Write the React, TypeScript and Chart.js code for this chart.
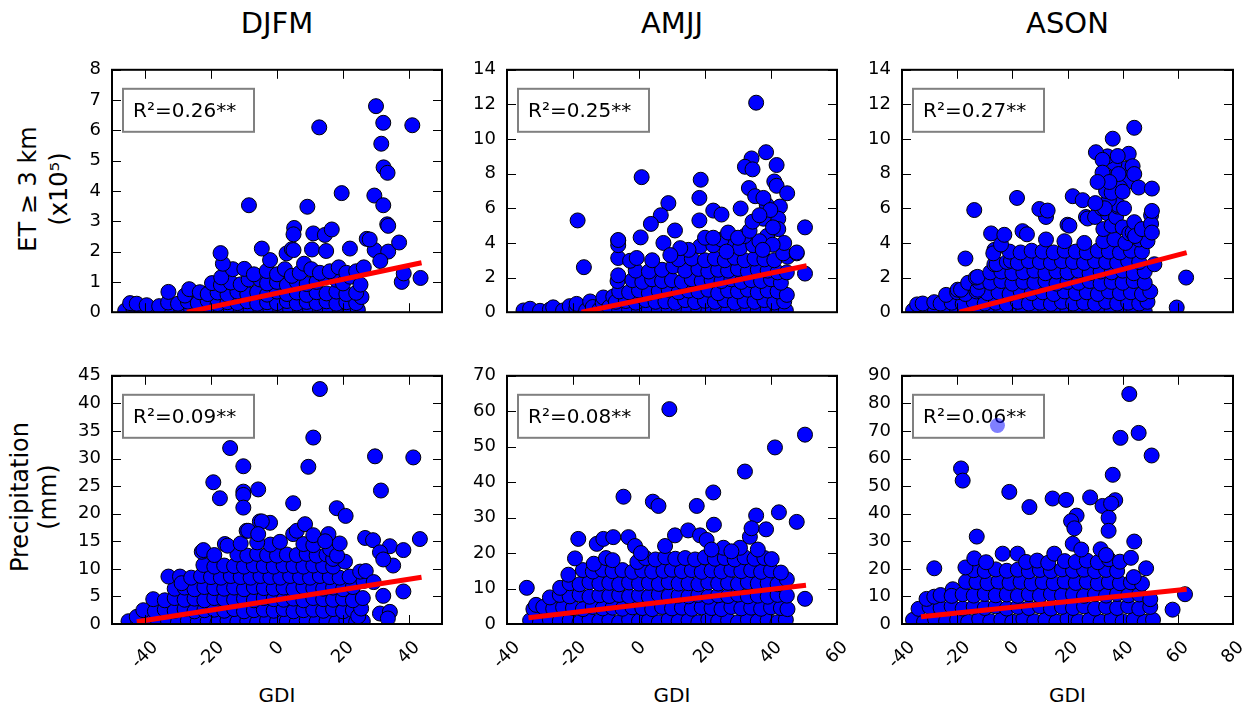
import { useEffect, useRef } from "react";
import { Chart, registerables } from "chart.js";

Chart.register(...registerables);

const FONT = "'DejaVu Sans', 'Liberation Sans', sans-serif";

type Pt = [number, number];

// ---------- season titles, axis labels, fit statistics ----------
const seasons = ["DJFM", "AMJJ", "ASON"];
const rowLabels = [["ET \u2265 3 km", "(x10\u2075)"], ["Precipitation", "(mm)"]];
const xLabel = "GDI";
const r2Et = ["R\u00b2=0.26**", "R\u00b2=0.25**", "R\u00b2=0.27**"];
const r2Pr = ["R\u00b2=0.09**", "R\u00b2=0.08**", "R\u00b2=0.06**"];

// ---------- axis ranges and ticks ----------
const xRanges: Pt[] = [[-50, 50], [-40, 60], [-40, 80]];
const xTicks = [
  [-40, -20, 0, 20, 40],
  [-40, -20, 0, 20, 40, 60],
  [-40, -20, 0, 20, 40, 60, 80],
];
const etYMax = [8, 14, 14];
const prYMax = [45, 70, 90];
const etYTicks = [
  [0, 1, 2, 3, 4, 5, 6, 7, 8],
  [0, 2, 4, 6, 8, 10, 12, 14],
  [0, 2, 4, 6, 8, 10, 12, 14],
];
const prYTicks = [
  [0, 5, 10, 15, 20, 25, 30, 35, 40, 45],
  [0, 10, 20, 30, 40, 50, 60, 70],
  [0, 10, 20, 30, 40, 50, 60, 70, 80, 90],
];

// ---------- regression lines (GDI, value) ----------
const fitDjfmEt: Pt[] = [[-27.3, 0], [43.8, 1.63]];
const fitAmjjEt: Pt[] = [[-17.4, 0], [50.8, 2.68]];
const fitAsonEt: Pt[] = [[-19.2, 0], [63.2, 3.44]];
const fitDjfmPr: Pt[] = [[-42.5, 0.4], [43.8, 8.47]];
const fitAmjjPr: Pt[] = [[-33.5, 1.74], [50.6, 10.9]];
const fitAsonPr: Pt[] = [[-33.1, 2.6], [63.2, 12.6]];

// ---------- ET >= 3 km (x10^5) vs GDI ----------
const djfmEt: Pt[] = [
  [-46, 0.05], [-43.5, 0.1], [-41, 0.04], [-38, 0.08], [-35, 0.03], [-32, 0.1], [-29, 0.05], [-26, 0.08], [-23, 0.02], [-20, 0.1],
  [-17, 0.05], [-14, 0.09], [-11, 0.03], [-8, 0.07], [-5, 0.04], [-2, 0.1], [1, 0.05], [4, 0.08], [7, 0.03], [10, 0.1],
  [13, 0.06], [16, 0.04], [19, 0.09], [22, 0.05], [24.5, 0.08],
  [-44.5, 0.3], [-42.5, 0.28], [-39.5, 0.23], [-35.7, 0.2], [-33, 0.32], [-30, 0.28], [-27, 0.35], [-24, 0.3], [-21, 0.38], [-18, 0.27],
  [-15, 0.33], [-12, 0.3], [-9, 0.36], [-6, 0.28], [-3, 0.33], [0, 0.3], [3, 0.37], [6, 0.29], [9, 0.34], [12, 0.3],
  [15, 0.36], [18, 0.28], [21, 0.33], [24, 0.3], [25.6, 0.5],
  [-32.9, 0.67], [-27.9, 0.55], [-26.6, 0.76], [-23.4, 0.66], [-21, 0.6], [-18, 0.65], [-15, 0.58], [-12, 0.68], [-9, 0.6], [-6, 0.66],
  [-3, 0.58], [0, 0.68], [3, 0.6], [6, 0.65], [9, 0.57], [12, 0.66], [15, 0.62], [18, 0.68], [21, 0.6], [24, 0.64],
  [-19.7, 0.96], [-17, 0.9], [-14, 0.98], [-11, 0.92], [-8.6, 1.08], [-5.1, 1.08], [-3, 0.95], [0, 1.0], [3, 0.9], [6, 1.0],
  [9, 0.93], [12, 1.0], [14.5, 1.17], [18, 1.07], [20, 0.95], [22.2, 1.17], [25.3, 0.91],
  [-16.9, 1.15], [-13.4, 1.42], [-9.9, 1.43], [-7, 1.25], [-3.1, 1.36], [0, 1.25], [2.4, 1.42], [4.5, 1.2], [6.9, 1.3], [8.2, 1.6],
  [10.4, 1.42], [13, 1.3], [16, 1.35], [18.7, 1.48], [21, 1.3], [24, 1.35], [26.3, 1.48],
  [-16.4, 1.6], [-17.1, 1.95], [-2.1, 1.72], [2.9, 1.94], [-4.6, 2.1], [4.5, 2.08], [5.0, 2.05], [10.6, 2.07], [14.9, 2.02], [22.1, 2.1],
  [29.6, 2.05], [27.2, 2.42], [28.1, 2.4], [33.7, 2.0], [37, 2.3], [31.3, 1.69], [11, 2.6], [14.5, 2.55], [16.6, 2.73], [5.2, 2.78],
  [5.0, 2.57], [33.4, 2.9],
  [30, 6.8], [12.8, 6.1], [32.2, 6.25], [41, 6.17], [31.6, 5.56], [32.3, 4.78], [33.5, 4.6], [19.6, 3.93], [29.5, 3.85], [32.2, 3.53],
  [-8.5, 3.53], [9.2, 3.48], [33.7, 2.85], [37.8, 1.0], [38.4, 1.28], [43.5, 1.13],
];

const amjjEt: Pt[] = [
  [-35, 0.1], [-33, 0.2], [-30, 0.08], [-27, 0.15], [-26, 0.28], [-23, 0.1], [-21, 0.35], [-19, 0.2], [-18.9, 0.48], [-16, 0.1],
  [-14.8, 0.62], [-14, 0.3], [-12, 0.15], [-11, 0.55], [-10.8, 0.85], [-9, 0.3], [-7.8, 0.9],
  [-6, 0.1], [-3, 0.15], [0, 0.05], [3, 0.12], [6, 0.08], [9, 0.15], [12, 0.05], [15, 0.1], [18, 0.12], [21, 0.06],
  [24, 0.14], [27, 0.08], [30, 0.12], [33, 0.05], [36, 0.1], [39, 0.15], [42, 0.06], [44.5, 0.1],
  [-7, 0.6], [-4, 0.65], [-1, 0.55], [2, 0.7], [5, 0.6], [8, 0.62], [11, 0.55], [14, 0.7], [17, 0.58], [20, 0.66],
  [23, 0.6], [26, 0.7], [29, 0.55], [32, 0.65], [35, 0.6], [38, 0.7], [41, 0.56], [44, 0.62],
  [-6, 1.2], [-3, 1.15], [0, 1.25], [3, 1.1], [6, 1.22], [9, 1.3], [12, 1.15], [15, 1.25], [18, 1.2], [21, 1.3],
  [24, 1.1], [27, 1.25], [30, 1.2], [33, 1.3], [36, 1.15], [39, 1.25], [42, 1.2], [44.8, 1.0],
  [-6.5, 1.8], [-2, 1.85], [1, 1.75], [4, 1.9], [7, 1.8], [10, 1.85], [13, 1.75], [16, 1.9], [19, 1.8], [22, 1.85],
  [25, 1.8], [28, 1.9], [31, 1.75], [34, 1.85], [37, 1.8], [40, 1.9], [43, 1.7],
  [-6.3, 2.13], [-1, 2.4], [3, 2.35], [7, 2.45], [10.4, 2.65], [14, 2.4], [18, 2.5], [21, 2.35], [24, 2.45], [27, 2.4],
  [30, 2.5], [33, 2.35], [36, 2.45], [39, 2.4], [42, 2.3], [44.8, 2.3],
  [-6.3, 3.13], [-2.7, 2.97], [-0.7, 3.13], [4, 3.0], [12, 3.05], [16, 3.1], [20, 3.0], [23, 3.1], [26, 3.0], [29, 3.15],
  [32, 3.0], [35, 3.1], [38, 3.05], [41, 3.0], [45, 3.2],
  [-6.3, 4.14], [-6.3, 3.87], [0.5, 4.32], [7.4, 4.0], [18.5, 3.8], [22.5, 3.87], [28.6, 3.96], [30.6, 3.7], [34.6, 3.87], [25, 4.2],
  [32, 4.4], [38.8, 4.4], [43.7, 3.4], [47.8, 3.4], [20, 4.3], [36.5, 4.1], [15, 3.6], [44, 4.0],
  [27, 4.6], [30, 4.3], [33.5, 4.7], [40.5, 3.9], [26.5, 3.5], [37.5, 3.6], [12.5, 3.7], [9.5, 3.3],
  [35.5, 12.1], [0.8, 7.8], [-18.6, 5.3], [-16.7, 2.6], [38.5, 9.24], [34.1, 8.88], [32.1, 8.4], [34.4, 8.25], [41.7, 8.5], [18.7, 7.65],
  [41, 7.55], [41.7, 7.3], [44.9, 6.87], [33.3, 7.17], [35.2, 6.7], [18.3, 6.6], [8.9, 6.3], [22.5, 5.87], [25, 5.64], [30.8, 5.99],
  [38.7, 6.2], [42.7, 6.1], [6.6, 5.6], [3.6, 5.1], [18.3, 5.3], [42.2, 5.4], [37.7, 5.4], [34.4, 5.23], [50.3, 4.9], [10.9, 4.72],
  [42.2, 4.8], [-6.3, 4.17], [22.5, 4.3], [47.8, 3.45], [50.3, 2.23], [37.7, 6.6], [39.8, 5.9], [36.5, 5.6], [40.6, 4.9],
];

const asonEt: Pt[] = [
  [-36, 0.1], [-32, 0.05], [-28, 0.12], [-24, 0.08], [-20, 0.1], [-16, 0.05], [-12, 0.12], [-8, 0.08], [-4, 0.1], [0, 0.06],
  [4, 0.12], [8, 0.08], [12, 0.1], [16, 0.05], [20, 0.12], [24, 0.08], [28, 0.1], [32, 0.06], [36, 0.12], [40, 0.08],
  [44, 0.1], [48, 0.05],
  [-34.5, 0.45], [-32.5, 0.5], [-28.3, 0.58], [-26, 0.5], [-22, 0.55], [-18, 0.48], [-14, 0.6], [-10, 0.5], [-6, 0.55], [-2, 0.45],
  [2, 0.6], [6, 0.5], [10, 0.55], [14, 0.48], [18, 0.6], [22, 0.5], [26, 0.55], [30, 0.48], [34, 0.6], [38, 0.5],
  [42, 0.55], [46, 0.5], [49, 0.6],
  [-24, 1.0], [-20, 1.15], [-17, 1.05], [-13, 1.2], [-9, 1.1], [-5, 1.15], [-1, 1.05], [3, 1.2], [7, 1.1], [11, 1.15],
  [15, 1.05], [19, 1.2], [23, 1.1], [27, 1.15], [31, 1.05], [35, 1.2], [39, 1.1], [43, 1.15], [47, 1.05], [50, 1.2],
  [-19.8, 1.3], [-18.6, 1.3], [-16, 1.7], [-12.6, 1.3], [-12, 1.75], [-8, 1.7], [-4, 1.8], [0, 1.65], [4, 1.75], [8, 1.7],
  [12, 1.8], [16, 1.65], [20, 1.75], [24, 1.7], [28, 1.8], [32, 1.65], [36, 1.75], [40, 1.7], [44, 1.8], [48, 1.7],
  [-13.2, 2.0], [-12.6, 2.04], [-8, 2.3], [-4, 2.35], [0, 2.25], [4, 2.3], [8, 2.4], [12, 2.25], [16, 2.35], [20, 2.3],
  [24, 2.4], [28, 2.25], [32, 2.35], [36, 2.3], [40, 2.4], [44, 2.25], [48, 2.35],
  [-6.5, 2.77], [-5.7, 2.78], [-2, 2.9], [-0.5, 2.97], [2, 2.85], [6, 2.95], [10, 2.9], [14, 2.85], [18, 2.95], [22, 2.9],
  [26, 2.85], [30, 2.95], [34, 2.9], [38, 2.85], [42, 2.95], [46, 2.9], [51.5, 2.77],
  [-6.5, 3.6], [-6.9, 3.4], [-1, 3.5], [3, 3.45], [7, 3.55], [11, 3.5], [15, 3.45], [19, 3.55], [23, 3.5], [27, 3.45],
  [31, 3.55], [35, 3.5], [39, 3.45], [43, 3.55], [47, 3.5],
  [-4.1, 3.91], [12.2, 4.2], [18.9, 4.1], [26.1, 4.0], [33, 4.1], [37, 4.2], [41, 4.0], [46, 4.2], [49, 4.1],
  [-7.7, 4.55], [-2.9, 4.47], [3.7, 4.68], [5.3, 4.5], [20, 5.05], [20.7, 5.0], [26.7, 5.5], [27.3, 5.41], [30, 5.5], [33, 4.8],
  [34.6, 5.7], [36, 5.0], [37.6, 5.5], [38.2, 6.1], [40, 4.9], [42.4, 4.56], [43.6, 4.6], [44.2, 5.2], [44.5, 4.4], [47, 4.8],
  [50.3, 5.6], [50.3, 5.1], [50.6, 4.6], [50.6, 5.85], [12.2, 5.5], [9.8, 5.96], [12.8, 5.87], [38.2, 6.2], [35, 6.5], [40.5, 6.0],
  [32.5, 6.0], [34, 7.0], [36.5, 7.8], [40.5, 8.3], [37, 8.6], [34.5, 9.0], [41.5, 7.5], [39, 7.2], [36, 6.9], [33.5, 6.0],
  [44.2, 10.65], [36.4, 10.02], [30.3, 9.24], [42.2, 9.15], [38.2, 9.02], [32.7, 8.8], [43.6, 8.43], [44.2, 7.98], [38.5, 7.98], [32.7, 8.06],
  [35.2, 7.52], [30.9, 7.52], [45.8, 7.2], [50.6, 7.14], [40, 6.96], [1.7, 6.6], [21.9, 6.7], [25.5, 6.47], [30.1, 6.3], [-13.8, 5.9],
  [-17, 3.1], [63, 2.0], [59.6, 0.27],
];

// ---------- precipitation (mm) vs GDI ----------
const djfmPr: Pt[] = [
  [-45, 0.5], [-42, 0.3], [-39, 0.6], [-36, 0.4], [-33, 0.5], [-30, 0.3], [-27, 0.6], [-24, 0.4], [-21, 0.5], [-18, 0.3],
  [-15, 0.6], [-12, 0.4], [-9, 0.5], [-6, 0.3], [-3, 0.6], [0, 0.4], [3, 0.5], [6, 0.3], [9, 0.6], [12, 0.4],
  [15, 0.5], [18, 0.3], [21, 0.6], [24, 0.4], [26, 0.5],
  [-42.5, 1.3], [-40.5, 2.5], [-37, 2.3], [-34, 2.6], [-31, 2.4], [-28, 2.7], [-25, 2.3], [-22, 2.5], [-19, 2.6], [-16, 2.4],
  [-13, 2.7], [-10, 2.3], [-7, 2.5], [-4, 2.6], [-1, 2.4], [2, 2.7], [5, 2.3], [8, 2.5], [11, 2.6], [14, 2.4],
  [17, 2.7], [20, 2.3], [23, 2.5], [24.6, 1.4], [25.5, 2.8],
  [-37.5, 4.5], [-34, 4.3], [-31, 4.7], [-28, 4.4], [-25, 4.6], [-22, 4.3], [-19, 4.7], [-16, 4.5], [-13, 4.4], [-10, 4.6],
  [-7, 4.3], [-4, 4.7], [-1, 4.5], [2, 4.4], [5, 4.6], [8, 4.3], [11, 4.7], [14, 4.5], [17, 4.4], [20, 4.6],
  [23, 4.3], [26, 4.7],
  [-31, 6.4], [-28, 6.6], [-25, 6.3], [-22, 6.7], [-19, 6.5], [-16, 6.4], [-13, 6.6], [-10, 6.3], [-7, 6.7], [-4, 6.5],
  [-1, 6.4], [2, 6.6], [5, 6.3], [8, 6.7], [11, 6.5], [14, 6.4], [17, 6.6], [20, 6.3], [23, 6.7], [26.2, 7.8],
  [-32.9, 8.6], [-29.4, 8.6], [-28.9, 7.4], [-26, 8.4], [-23, 8.7], [-20, 8.5], [-17, 8.4], [-14, 8.7], [-11, 8.5], [-8, 8.4],
  [-5, 8.7], [-2, 8.5], [1, 8.4], [4, 8.7], [7, 8.5], [10, 8.4], [13, 8.7], [16, 8.5], [19, 8.4], [22, 8.6],
  [25.2, 9.5],
  [-22.3, 10.7], [-19, 10.4], [-16, 10.6], [-13, 10.5], [-10, 10.4], [-7, 10.6], [-4, 10.5], [-1, 10.4], [2, 10.6], [5, 10.5],
  [8, 10.4], [11, 10.6], [14, 10.5], [17, 10.4], [20.6, 11.3],
  [-22.8, 13.1], [-22.3, 13.4], [-19, 12.5], [-15.8, 14.5], [-12, 12.6], [-9, 12.4], [-6, 12.7], [-3, 12.5], [0, 12.4], [3, 12.6],
  [6, 12.5], [9, 12.7], [12, 12.4], [15, 12.6], [17, 11.8], [16.1, 13.6], [18.2, 12.4], [19, 14.6],
  [-15, 14.2], [-11, 14.6], [-9.2, 16.9], [-5.2, 18.6], [-2, 14.4], [0.9, 14.9], [4.9, 16.3], [8, 14.5], [11, 14.3], [-6, 14.8],
  [13, 42.6], [11, 33.8], [-14.2, 31.9], [29.7, 30.4], [41.3, 30.2], [9.5, 28.5], [-10.2, 28.6], [-19.3, 25.7], [-5.7, 24.4], [31.5, 24.2],
  [-10.2, 24.0], [-10.2, 23.4], [-17.3, 22.8], [4.9, 21.9], [-10.2, 21.1], [18.1, 21.0], [20.8, 19.6], [-2.1, 18.35], [-4.6, 18.6], [-8.7, 16.9],
  [-5.7, 16.3], [6.0, 16.9], [8.5, 18.1], [11, 16.1], [15.6, 16.3], [14.6, 15.0], [26.7, 15.6], [29.1, 15.2], [43.3, 15.4], [34.2, 14.1],
  [31.2, 13.0], [38.3, 13.4], [35.2, 10.6], [32.2, 11.7], [32.2, 5.1], [38.3, 5.9], [31.2, 1.9], [34.2, 2.2], [33.6, 1.0], [26.9, 9.6],
  [29.3, 7.6],
];

const amjjPr: Pt[] = [
  [-33, 1], [-30, 0.5], [-27, 1.2], [-24, 0.8], [-21, 1], [-18, 0.5], [-15, 1.2], [-12, 0.8], [-9, 1], [-6, 0.5],
  [-3, 1.2], [0, 0.8], [3, 1], [6, 0.5], [9, 1.2], [12, 0.8], [15, 1], [18, 0.5], [21, 1.2], [24, 0.8],
  [27, 1], [30, 0.5], [33, 1.2], [36, 0.8], [39, 1], [42, 0.5], [44.5, 1.2],
  [-32, 4.2], [-31.2, 5.4], [-29, 4.8], [-26, 4.3], [-23, 4.7], [-20, 4.5], [-17, 4.2], [-14, 4.8], [-11, 4.4], [-8, 4.6],
  [-5, 4.3], [-2, 4.7], [1, 4.5], [4, 4.2], [7, 4.8], [10, 4.4], [13, 4.6], [16, 4.3], [19, 4.7], [22, 4.5],
  [25, 4.2], [28, 4.8], [31, 4.4], [34, 4.6], [37, 4.3], [40, 4.7], [43, 4.5], [45, 4.2],
  [-27, 7.5], [-24, 8.2], [-21, 7.8], [-18, 8.3], [-15, 7.7], [-12, 8.1], [-9, 7.9], [-6, 8.2], [-3, 7.8], [0, 8.1],
  [3, 7.7], [6, 8.3], [9, 7.9], [12, 8.0], [15, 7.8], [18, 8.2], [21, 7.7], [24, 8.1], [27, 7.9], [30, 8.3],
  [33, 7.8], [36, 8.0], [39, 7.7], [42, 8.2], [44.8, 8.0],
  [-23.9, 10.2], [-21, 11.5], [-18, 11.2], [-15, 11.8], [-12, 11.4], [-9, 11.6], [-6, 11.2], [-3, 11.7], [0, 11.4], [3, 11.6],
  [6, 11.3], [9, 11.8], [12, 11.4], [15, 11.5], [18, 11.2], [21, 11.7], [24, 11.4], [27, 11.6], [30, 11.3], [33, 11.8],
  [36, 11.4], [39, 11.5], [42, 11.2], [44.8, 12.6],
  [-21.4, 13.9], [-17, 15.2], [-14, 14.8], [-11, 15.3], [-8, 14.9], [-5, 15.2], [-2, 14.7], [1, 15.1], [4, 14.8], [7.4, 15],
  [10, 15.3], [13, 14.9], [16, 15.2], [19, 14.7], [22, 15.1], [25, 14.8], [28, 15.3], [31, 14.9], [34, 15.2], [37, 14.7],
  [40, 15.1], [43, 14.5],
  [-19.4, 18.5], [-13.7, 17], [-10, 18.6], [-8, 18.0], [-0.5, 17.5], [2, 18.6], [5, 18.2], [8, 18.8], [11, 18.4], [14, 18.6],
  [17, 18.2], [20, 18.8], [23, 18.4], [26, 18.6], [29, 18.2], [32, 18.8], [35, 18.4], [38, 18.6], [40.2, 18.3],
  [-12.8, 22.6], [-10.8, 24], [-7.8, 24.5], [-3.2, 24.5], [-1.2, 22], [0.6, 20], [7.9, 22], [10.9, 25], [14.9, 26.4], [18.5, 25],
  [20.5, 23.7], [25.6, 21.5], [30.6, 21.5], [33.6, 24.6], [22, 21], [28, 20.5], [36, 21], [-18.4, 24.0],
  [9.2, 60.6], [50.3, 53.4], [41.2, 49.8], [32.1, 43], [22.5, 37.1], [-4.7, 35.9], [4.2, 34.5], [5.9, 33.3], [17.5, 33.3], [42.4, 31.5],
  [47.8, 28.8], [35.5, 30.6], [38.5, 26.7], [22.7, 28], [34.1, 27], [-34, 10.2], [50.3, 7.1],
];

const asonPr: Pt[] = [
  [-36, 1.5], [-32, 0.8], [-28, 1.8], [-24, 1.0], [-20, 1.5], [-16, 0.8], [-12, 1.8], [-8, 1.0], [-4, 1.5], [0, 0.8],
  [4, 1.8], [8, 1.0], [12, 1.5], [16, 0.8], [20, 1.8], [24, 1.0], [28, 1.5], [32, 0.8], [36, 1.8], [40, 1.0],
  [44, 1.5], [48, 0.8], [51, 1.5],
  [-34, 5.5], [-30, 6.2], [-26, 5.8], [-22, 6.4], [-18, 5.6], [-14, 6.2], [-10, 5.8], [-6, 6.4], [-2, 5.6], [2, 6.2],
  [6, 5.8], [10, 6.4], [14, 5.6], [18, 6.2], [22, 5.8], [26, 6.4], [30, 5.6], [34, 6.2], [38, 5.8], [42, 6.4],
  [46, 5.6], [50, 6.2],
  [-31.1, 9.1], [-28.3, 9.9], [-26, 10.5], [-21.6, 12.6], [-22, 10.2], [-18, 10.8], [-14, 10.3], [-10, 10.9], [-6, 10.4], [-2, 10.7],
  [2, 10.2], [6, 10.8], [10, 10.3], [14, 10.9], [18, 10.4], [22, 10.7], [26, 10.2], [30, 10.8], [34, 10.3], [38, 10.9],
  [42, 10.4], [46, 10.7], [50, 9],
  [-16.8, 15.3], [-13, 15.2], [-9, 14.8], [-5, 15.4], [-1, 14.9], [3, 15.3], [7, 14.7], [11, 15.2], [15, 14.8], [19, 15.4],
  [23, 14.9], [27, 15.3], [31, 14.7], [35, 15.2], [39, 14.8], [43, 15.1], [47, 14.6],
  [-14, 19.5], [-10, 19.2], [-6, 19.8], [-2, 19.3], [2, 19.7], [6, 19.1], [10, 19.6], [14, 19.2], [18, 19.8], [22, 19.3],
  [26, 19.7], [30, 19.1], [34, 19.6], [38, 19.2], [44, 17], [48.5, 20.2], [-17, 20.5],
  [-13.8, 23.8], [-9.5, 22.4], [-3.5, 25.5], [1.9, 25.5], [5, 22.5], [9, 23], [13, 22.2], [15.2, 25.5], [19, 22.8], [23, 22.5],
  [27, 23], [31, 22.4], [35, 23.5], [39, 22.6], [43, 24],
  [42.4, 83.4], [45.8, 69.3], [39.2, 67.5], [50.5, 61.1], [-18.6, 56.4], [-18, 52], [36.4, 54.1], [-1.1, 47.9], [6.2, 42.4], [14.6, 45.5],
  [19.5, 45], [28.2, 45.9], [32.7, 42.8], [37.3, 44.9], [35.8, 43.7], [23.3, 39.3], [21.3, 37.3], [22.5, 34.7], [34.9, 38.5], [34.9, 33.8],
  [-28.3, 20.2], [-12.9, 31.7], [21.9, 29.1], [44.2, 29.9], [32, 27.1], [62.6, 10.8], [58.1, 5.2], [25, 27], [34, 25],
];
// lighter, partly transparent sample
const asonPrFaint: Pt[] = [[-5.4, 72]];

// ---------- layout (page pixels) ----------
const COL_LEFT = [112, 507, 902];
const COL_W = [330, 330, 331];
const ROW_TOP = [63, 369];
const ROW_H = [256, 255];
const PAD_L = 70;
const PAD_T = 15;
const PAD_R = 15;
const PAD_B = [15, 60];
const MARKER_R = 7.5;

interface PanelSpec {
  key: string;
  points: Pt[];
  faint: Pt[];
  fit: Pt[];
  r2: string;
  xRange: Pt;
  xTicks: number[];
  yMax: number;
  yTicks: number[];
  col: number;
  row: number;
}

const panels: PanelSpec[] = [
  { key: "e0", points: djfmEt, faint: [], fit: fitDjfmEt, r2: r2Et[0], xRange: xRanges[0], xTicks: xTicks[0], yMax: etYMax[0], yTicks: etYTicks[0], col: 0, row: 0 },
  { key: "e1", points: amjjEt, faint: [], fit: fitAmjjEt, r2: r2Et[1], xRange: xRanges[1], xTicks: xTicks[1], yMax: etYMax[1], yTicks: etYTicks[1], col: 1, row: 0 },
  { key: "e2", points: asonEt, faint: [], fit: fitAsonEt, r2: r2Et[2], xRange: xRanges[2], xTicks: xTicks[2], yMax: etYMax[2], yTicks: etYTicks[2], col: 2, row: 0 },
  { key: "p0", points: djfmPr, faint: [], fit: fitDjfmPr, r2: r2Pr[0], xRange: xRanges[0], xTicks: xTicks[0], yMax: prYMax[0], yTicks: prYTicks[0], col: 0, row: 1 },
  { key: "p1", points: amjjPr, faint: [], fit: fitAmjjPr, r2: r2Pr[1], xRange: xRanges[1], xTicks: xTicks[1], yMax: prYMax[1], yTicks: prYTicks[1], col: 1, row: 1 },
  { key: "p2", points: asonPr, faint: asonPrFaint, fit: fitAsonPr, r2: r2Pr[2], xRange: xRanges[2], xTicks: xTicks[2], yMax: prYMax[2], yTicks: prYTicks[2], col: 2, row: 1 },
];

const toXY = (pts: Pt[]) => pts.map(([x, y]) => ({ x, y }));

// axes frame, inward ticks on all sides, the R² box and rotated GDI tick labels
function makeDecorations(spec: PanelSpec) {
  return {
    id: "panelDecorations",
    beforeDatasetsDraw(chart: any) {
      const { ctx, chartArea: a } = chart;
      const bx = a.left + 11;
      const by = a.top + 19;
      ctx.save();
      ctx.fillStyle = "#ffffff";
      ctx.fillRect(bx, by, 131, 43);
      ctx.strokeStyle = "#808080";
      ctx.lineWidth = 2;
      ctx.strokeRect(bx, by, 131, 43);
      ctx.fillStyle = "#000000";
      ctx.font = `20px ${FONT}`;
      ctx.textAlign = "left";
      ctx.textBaseline = "alphabetic";
      ctx.fillText(spec.r2, bx + 10, by + 28);
      ctx.restore();
    },
    afterDatasetsDraw(chart: any) {
      const { ctx, chartArea: a } = chart;
      const xs = chart.scales.x;
      const ys = chart.scales.y;
      const TL = 9;
      ctx.save();
      ctx.strokeStyle = "#000000";
      ctx.lineWidth = 1;
      ctx.beginPath();
      for (const t of xs.ticks) {
        const px = Math.round(xs.getPixelForValue(t.value)) + 0.5;
        ctx.moveTo(px, a.bottom);
        ctx.lineTo(px, a.bottom - TL);
        ctx.moveTo(px, a.top);
        ctx.lineTo(px, a.top + TL);
      }
      for (const t of ys.ticks) {
        const py = Math.round(ys.getPixelForValue(t.value)) + 0.5;
        ctx.moveTo(a.left, py);
        ctx.lineTo(a.left + TL, py);
        ctx.moveTo(a.right, py);
        ctx.lineTo(a.right - TL, py);
      }
      ctx.stroke();
      ctx.lineWidth = 2;
      ctx.strokeRect(a.left, a.top, a.right - a.left, a.bottom - a.top);

      if (spec.row === 1) {
        ctx.fillStyle = "#000000";
        ctx.font = `18px ${FONT}`;
        ctx.textAlign = "center";
        ctx.textBaseline = "middle";
        for (const t of xs.ticks) {
          const label = String(t.value);
          const w = ctx.measureText(label).width;
          const px = xs.getPixelForValue(t.value);
          const cy = a.bottom + 16 + (w + 13) / (2 * Math.SQRT2);
          ctx.save();
          ctx.translate(px, cy);
          ctx.rotate(-Math.PI / 4);
          ctx.fillText(label, 0, 0);
          ctx.restore();
        }
      }
      ctx.restore();
    },
  };
}

function Panel({ spec }: { spec: PanelSpec }) {
  const ref = useRef<HTMLCanvasElement | null>(null);
  const width = COL_W[spec.col] + PAD_L + PAD_R;
  const height = ROW_H[spec.row] + PAD_T + PAD_B[spec.row];

  useEffect(() => {
    if (!ref.current) return;
    const chart = new Chart(ref.current, {
      type: "scatter",
      data: {
        datasets: [
          {
            data: toXY(spec.fit),
            showLine: true,
            borderColor: "#ff0000",
            borderWidth: 5,
            pointRadius: 0,
            pointHoverRadius: 0,
            order: 0,
            clip: 0,
          } as any,
          {
            data: toXY(spec.faint),
            pointRadius: MARKER_R,
            pointHoverRadius: MARKER_R,
            backgroundColor: "rgba(0,0,255,0.5)",
            borderColor: "rgba(0,0,255,0)",
            borderWidth: 0,
            order: 1,
            clip: 0,
          } as any,
          {
            data: toXY(spec.points),
            pointRadius: MARKER_R,
            pointHoverRadius: MARKER_R,
            backgroundColor: "#0000ff",
            borderColor: "#000000",
            borderWidth: 1,
            order: 2,
            clip: 0,
          } as any,
        ],
      },
      options: {
        responsive: false,
        maintainAspectRatio: false,
        animation: false,
        devicePixelRatio: 1,
        events: [],
        layout: { padding: { left: PAD_L - 60, top: PAD_T, right: PAD_R, bottom: PAD_B[spec.row] } },
        plugins: { legend: { display: false }, tooltip: { enabled: false } },
        scales: {
          x: {
            type: "linear",
            display: false,
            min: spec.xRange[0],
            max: spec.xRange[1],
            afterBuildTicks: (s: any) => {
              s.ticks = spec.xTicks.map((v) => ({ value: v }));
            },
          },
          y: {
            type: "linear",
            min: 0,
            max: spec.yMax,
            grid: { display: false, drawTicks: false },
            border: { display: false },
            ticks: {
              autoSkip: false,
              padding: 11,
              color: "#000000",
              font: { family: FONT, size: 18 },
            },
            afterBuildTicks: (s: any) => {
              s.ticks = spec.yTicks.map((v) => ({ value: v }));
            },
            afterFit: (s: any) => {
              s.width = 60;
            },
          },
        },
      } as any,
      plugins: [makeDecorations(spec)],
    });
    return () => chart.destroy();
  }, [spec]);

  return (
    <canvas
      ref={ref}
      width={width}
      height={height}
      style={{
        position: "absolute",
        left: COL_LEFT[spec.col] - PAD_L,
        top: ROW_TOP[spec.row] - PAD_T,
        width,
        height,
      }}
    />
  );
}

export default function App() {
  const rowCenters = [189, 497];
  const rowLabelX = [44.2, 34.2];
  const rowLineH = [31, 28];
  return (
    <div
      style={{
        position: "absolute",
        left: 0,
        top: 0,
        width: 1251,
        height: 705,
        background: "#ffffff",
        overflow: "hidden",
        fontFamily: FONT,
        color: "#000000",
      }}
    >
      {seasons.map((s, i) => (
        <div
          key={s}
          style={{
            position: "absolute",
            left: COL_LEFT[i] + COL_W[i] / 2 - 100,
            width: 200,
            top: 8.5,
            fontSize: 29,
            lineHeight: "29px",
            textAlign: "center",
            whiteSpace: "nowrap",
          }}
        >
          {s}
        </div>
      ))}
      {rowLabels.map((lines, r) => (
        <div
          key={lines[0]}
          style={{
            position: "absolute",
            left: rowLabelX[r] - 130,
            top: rowCenters[r] - rowLineH[r],
            width: 260,
            height: rowLineH[r] * 2,
            fontSize: 24,
            lineHeight: `${rowLineH[r]}px`,
            textAlign: "center",
            whiteSpace: "nowrap",
            transform: "rotate(-90deg)",
            transformOrigin: "50% 50%",
          }}
        >
          <div>{lines[0]}</div>
          <div>{lines[1]}</div>
        </div>
      ))}
      {seasons.map((s, i) => (
        <div
          key={`gdi-${s}`}
          style={{
            position: "absolute",
            left: COL_LEFT[i] + COL_W[i] / 2 - 60,
            width: 120,
            top: 685,
            fontSize: 20,
            lineHeight: "20px",
            textAlign: "center",
          }}
        >
          {xLabel}
        </div>
      ))}
      {panels.map((p) => (
        <Panel key={p.key} spec={p} />
      ))}
    </div>
  );
}
